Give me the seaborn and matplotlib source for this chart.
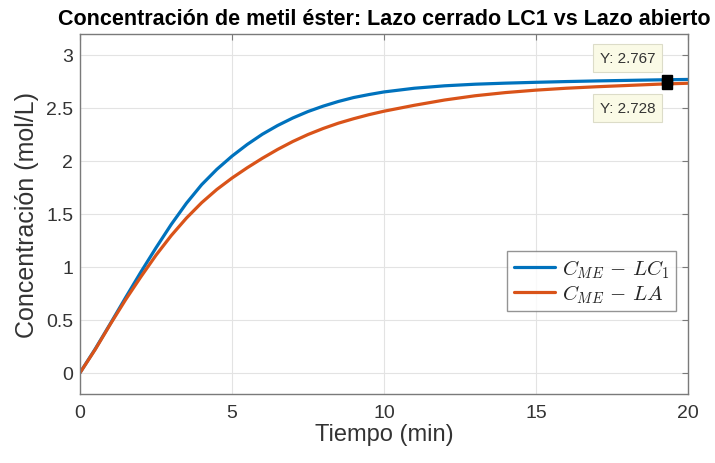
import numpy as np
import pandas as pd
import matplotlib
matplotlib.use('Agg')
import matplotlib.pyplot as plt
import seaborn as sns

# Datos
tiempo = [0, 0.5, 1, 1.5, 2, 2.5, 3, 3.5, 4, 4.5, 5, 5.5, 6, 6.5, 7, 7.5,
          8, 8.5, 9, 9.5, 10, 11, 12, 13, 14, 15, 16, 17, 18, 19, 20]
c_lc1 = [0, 0.225, 0.465, 0.71, 0.95, 1.18, 1.40, 1.60, 1.775, 1.92, 2.045,
         2.155, 2.252, 2.334, 2.405, 2.466, 2.517, 2.561, 2.598, 2.626, 2.651,
         2.686, 2.709, 2.724, 2.734, 2.742, 2.749, 2.755, 2.760, 2.765, 2.769]
c_la = [0, 0.22, 0.46, 0.69, 0.905, 1.11, 1.295, 1.46, 1.605, 1.73, 1.838,
        1.935, 2.025, 2.108, 2.183, 2.249, 2.306, 2.356, 2.398, 2.436, 2.469,
        2.525, 2.575, 2.615, 2.645, 2.668, 2.686, 2.700, 2.712, 2.724, 2.733]
series = [r'$C_{ME}\,-\,LC_1$', r'$C_{ME}\,-\,LA$']

# Data tips
t_tip = 19.3
y_tip = [2.767, 2.728]

df = pd.DataFrame({
    'Tiempo': tiempo + tiempo,
    'C': c_lc1 + c_la,
    'Serie': [series[0]] * len(tiempo) + [series[1]] * len(tiempo),
})

sns.set_theme(style='whitegrid')
plt.rcParams['font.family'] = ['Liberation Sans', 'DejaVu Sans']
plt.rcParams['mathtext.fontset'] = 'cm'

azul = '#0072BD'
naranja = '#D95319'
gris = '#333333'

fig = plt.figure(figsize=(7.15, 4.64), dpi=100)
ax = fig.add_axes([0.112, 0.149, 0.850, 0.776])

sns.lineplot(data=df, x='Tiempo', y='C', hue='Serie', palette=[azul, naranja],
             linewidth=2.3, ax=ax)

ax.set_xlim(0, 20)
ax.set_ylim(-0.2, 3.2)
ax.set_xticks([0, 5, 10, 15, 20])
ax.set_yticks([0, 0.5, 1, 1.5, 2, 2.5, 3])
ax.set_yticklabels(['0', '0.5', '1', '1.5', '2', '2.5', '3'])
ax.grid(True, color='#e3e3e3', linewidth=0.8)
ax.set_facecolor('white')
for s in ax.spines.values():
    s.set_color('#7a7a7a')
    s.set_linewidth(1.0)
ax.tick_params(direction='in', top=True, right=True, length=4, width=0.8,
               color='#7a7a7a', labelcolor=gris, labelsize=14, pad=5)
ax.tick_params(axis='x', pad=7)

ax.set_xlabel('Tiempo (min)', fontsize=17, color=gris, labelpad=2)
ax.set_ylabel('Concentración (mol/L)', fontsize=18, color=gris, labelpad=5)
ax.set_title('Concentración de metil éster: Lazo cerrado LC1 vs Lazo abierto',
             fontsize=15.5, fontweight='bold', color='black', pad=7)

leg = ax.legend(loc='lower right', bbox_to_anchor=(0.98, 0.23), fontsize=15,
                frameon=True, fancybox=False, handlelength=2.0,
                borderaxespad=0, borderpad=0.3, labelspacing=0.1,
                handletextpad=0.3)
leg.get_frame().set_edgecolor('#7a7a7a')
leg.get_frame().set_linewidth(1.0)
for line in leg.get_lines():
    line.set_linewidth(2.3)

# Marcadores de data tip
ax.plot([t_tip, t_tip], y_tip, 's', color='black', markersize=7, zorder=5,
        clip_on=False)
caja = dict(boxstyle='square,pad=0.45', fc='#fafae6', ec='#dcdcc8', lw=0.8)
ax.annotate(f'Y: {y_tip[0]:.3f}', xy=(t_tip, y_tip[0]), xytext=(-39, 22),
            textcoords='offset pixels', ha='center', va='center', fontsize=11,
            color=gris, bbox=caja)
ax.annotate(f'Y: {y_tip[1]:.3f}', xy=(t_tip, y_tip[1]), xytext=(-39, -24),
            textcoords='offset pixels', ha='center', va='center', fontsize=11,
            color=gris, bbox=caja)

fig.savefig('out.png', dpi=100)
